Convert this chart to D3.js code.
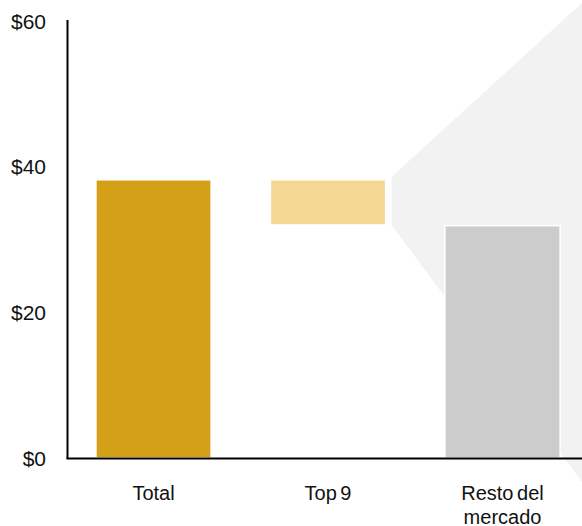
<!DOCTYPE html>
<html><head><meta charset="utf-8">
<script src="https://cdn.jsdelivr.net/npm/d3@7"></script>
<style>body{margin:0;background:#fff}svg{display:block}</style>
</head><body>
<svg id="c" width="582" height="526"></svg>
<script>
const categories = ["Total", "Top 9", "Resto del mercado"];
const labelLines = [["Total"], ["Top 9"], ["Resto del", "mercado"]];
const barBase = [0, 32.0, 0];
const barTop = [38.2, 38.2, 31.9];
const barColors = ["#D4A017", "#F4D793", "#CCCCCC"];
const tickValues = [0, 20, 40, 60];
const tickLabels = ["$0", "$20", "$40", "$60"];

const svg = d3.select("#c");
const y = d3.scaleLinear().domain([0, 60]).range([458, 21]);
const x = d3.scaleBand().domain(categories).range([66.25, 589.75]).paddingInner(0.34).paddingOuter(0.17);

// background zoom polygon from Top 9 to the right
const t9 = categories[1];
const px0 = x(t9) + x.bandwidth() + 6;
svg.append("path")
  .attr("d", `M${px0},${y(barTop[1]) - 3} L582,3 L582,482 L${px0},${y(barBase[1])} Z`)
  .attr("fill", "#F2F2F2");

svg.selectAll("rect.bar").data(categories).enter().append("rect")
  .attr("x", d => x(d))
  .attr("width", x.bandwidth())
  .attr("y", (d, i) => y(barTop[i]))
  .attr("height", (d, i) => y(barBase[i]) - y(barTop[i]))
  .attr("fill", (d, i) => barColors[i])
  .attr("stroke", "#fff").attr("stroke-width", 1.5);

// axes
svg.append("line").attr("x1", 67.5).attr("x2", 67.5).attr("y1", 20).attr("y2", 459)
  .attr("stroke", "#000").attr("stroke-width", 2);
svg.append("line").attr("x1", 66.5).attr("x2", 582).attr("y1", 458.5).attr("y2", 458.5)
  .attr("stroke", "#000").attr("stroke-width", 2);

svg.selectAll("text.tick").data(tickValues).enter().append("text")
  .attr("x", 46).attr("y", d => y(d) + 7.5)
  .attr("text-anchor", "end")
  .attr("font-family", "Liberation Sans, Arial, sans-serif")
  .attr("font-size", 21).attr("fill", "#111")
  .text((d, i) => tickLabels[i]);

categories.forEach((c, i) => {
  const t = svg.append("text")
    .attr("text-anchor", "middle")
    .attr("font-family", "Liberation Sans, Arial, sans-serif")
    .attr("font-size", 20).attr("word-spacing", -2).attr("fill", "#111");
  labelLines[i].forEach((ln, j) => {
    t.append("tspan").attr("x", x(c) + x.bandwidth() / 2).attr("y", 500 + j * 23.5).text(ln);
  });
});
</script>
</body></html>
